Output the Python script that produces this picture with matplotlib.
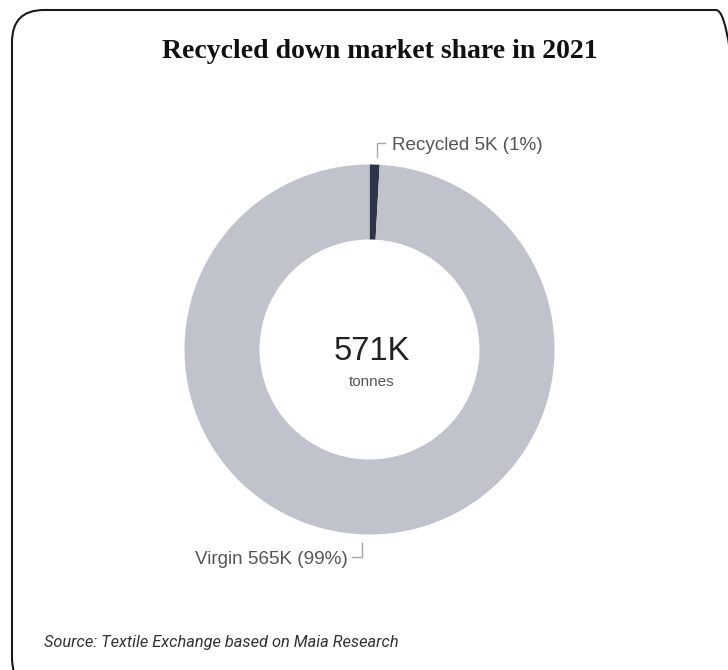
import matplotlib
matplotlib.use("Agg")
import matplotlib.pyplot as plt
from matplotlib.patches import FancyBboxPatch

# Data
categories = ["Recycled", "Virgin"]
values = [5, 565]
value_labels = ["Recycled 5K (1%)", "Virgin 565K (99%)"]
total_label = "571K"
unit_label = "tonnes"
title = "Recycled down market share in 2021"
source = "Source: Textile Exchange based on Maia Research"
colors = ["#2e3447", "#c1c3cc"]

W, H = 728, 670
fig = plt.figure(figsize=(W / 100, H / 100), dpi=100)
fig.patch.set_facecolor("white")

ax = fig.add_axes([0, 0, 1, 1])
cx, cy = 369.5, H - 349.5
R = 185
ax.pie(values, colors=colors, startangle=90, counterclock=False,
       radius=R, center=(cx, cy),
       wedgeprops=dict(width=R - 110, linewidth=0))
ax.set_xlim(0, W)
ax.set_ylim(0, H)
ax.set_aspect("equal")
ax.axis("off")

# border
border = FancyBboxPatch((12, -20), W + 20 - 12, H - 10 + 20,
                        boxstyle="round,pad=0,rounding_size=32",
                        linewidth=1.5, edgecolor="#1a1a1a", facecolor="none",
                        transform=ax.transData, clip_on=False)
ax.add_patch(border)

# title
ax.text(380, H - 51, title, ha="center", va="center",
        fontsize=20, fontweight="bold", family="Liberation Serif", color="#111111")

# center text
ax.text(cx + 2, H - 351, total_label, ha="center", va="center",
        fontsize=23.5, family="Liberation Sans", color="#222222")
ax.text(cx + 2, H - 382, unit_label, ha="center", va="center",
        fontsize=11, family="Liberation Sans", color="#555555")

# labels with leader lines
lc = "#a8a8a8"
ax.plot([377, 377, 385], [H - 157, H - 143, H - 143], color=lc, lw=1, solid_joinstyle="miter")
ax.text(392, H - 145, value_labels[0], ha="left", va="center",
        fontsize=13.6, family="Liberation Sans", color="#555555")
ax.plot([352, 362, 362], [H - 557, H - 557, H - 543], color=lc, lw=1, solid_joinstyle="miter")
ax.text(348, H - 559, value_labels[1], ha="right", va="center",
        fontsize=13.6, family="Liberation Sans", color="#555555")

# source
ax.text(44, H - 643, source, ha="left", va="center",
        fontsize=11.8, style="italic", family="Roboto", color="#333333")

fig.savefig("out.png", dpi=100)
